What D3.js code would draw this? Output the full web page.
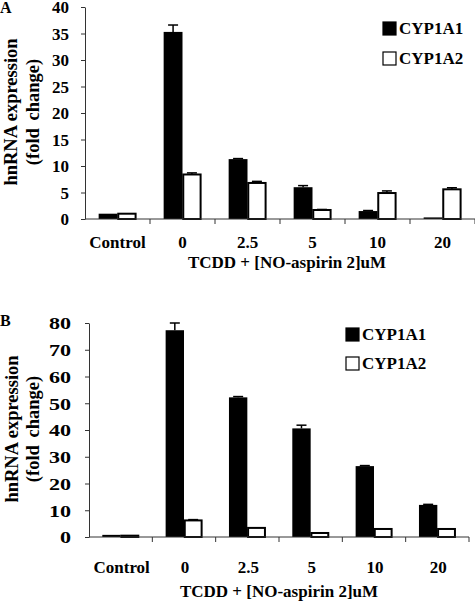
<!DOCTYPE html>
<html><head><meta charset="utf-8">
<script src="https://cdn.jsdelivr.net/npm/d3@7"></script>
<style>
body{margin:0;background:#fff;}
svg{display:block;font-family:"Liberation Serif","Times New Roman",serif;font-weight:bold;}
</style></head>
<body>
<svg id="c" width="475" height="603"></svg>
<script>
const categories = ["Control","0","2.5","5","10","20"];
const seriesNames = ["CYP1A1","CYP1A2"];
const aCYP1A1 = [1.0, 35.3, 11.3, 6.0, 1.5, 0.3];
const aCYP1A1Err = [0, 1.3, 0.1, 0.3, 0.1, 0];
const aCYP1A2 = [1.0, 8.4, 6.8, 1.7, 4.9, 5.6];
const aCYP1A2Err = [0, 0.3, 0.3, 0.1, 0.4, 0.3];
const bCYP1A1 = [0.8, 77.3, 52.2, 40.6, 26.5, 12.0];
const bCYP1A1Err = [0, 2.7, 0.3, 1.2, 0.2, 0.2];
const bCYP1A2 = [0.5, 6.2, 3.4, 1.5, 3.0, 3.0];
const bCYP1A2Err = [0, 0.3, 0, 0, 0, 0];
const aTicks = [0,5,10,15,20,25,30,35,40];
const bTicks = [0,10,20,30,40,50,60,70,80];
const xTitle = "TCDD + [NO-aspirin 2]uM";
const yTitle1 = "hnRNA expression";
const yTitle2 = "(fold change)";

const svg = d3.select("#c");

function panel(o){
  const g = svg.append("g");
  const x0 = d3.scaleBand().domain(categories).range([o.left, o.right]).padding(0);
  const bw = x0.bandwidth();
  const x1 = d3.scaleBand().domain(seriesNames).range([bw*0.21, bw*0.79]).padding(0);
  const y = d3.scaleLinear().domain([0, o.max]).range([o.bottom, o.top]);

  // panel letter
  g.append("text").attr("x",0).attr("y",o.letterY).attr("font-size",16).text(o.letter);

  // bars
  const data = categories.map((c,i)=>({c, vals:[
    {s:"CYP1A1", v:o.s1[i], e:o.e1[i]},
    {s:"CYP1A2", v:o.s2[i], e:o.e2[i]}]}));
  const grp = g.selectAll("g.cat").data(data).enter().append("g")
    .attr("transform", d=>`translate(${x0(d.c)},0)`);
  grp.selectAll("rect").data(d=>d.vals).enter().append("rect")
    .attr("x", d=>x1(d.s)+(d.s==="CYP1A2"?0.75:0))
    .attr("width", d=>x1.bandwidth()-(d.s==="CYP1A2"?1.5:0))
    .attr("y", d=>y(d.v))
    .attr("height", d=>Math.max(0,o.bottom-y(d.v)))
    .attr("fill", d=>d.s==="CYP1A1"?"#000":"#fff")
    .attr("stroke", d=>d.s==="CYP1A2"?"#000":"none")
    .attr("stroke-width",2);
  // error bars
  const eb = grp.selectAll("g.err").data(d=>d.vals.filter(v=>v.e>0)).enter().append("g");
  eb.append("line")
    .attr("x1", d=>x1(d.s)+x1.bandwidth()/2).attr("x2", d=>x1(d.s)+x1.bandwidth()/2)
    .attr("y1", d=>y(d.v)).attr("y2", d=>y(d.v+d.e))
    .attr("stroke","#000").attr("stroke-width",1.5);
  eb.append("line")
    .attr("x1", d=>x1(d.s)+x1.bandwidth()/2-5).attr("x2", d=>x1(d.s)+x1.bandwidth()/2+5)
    .attr("y1", d=>y(d.v+d.e)).attr("y2", d=>y(d.v+d.e))
    .attr("stroke","#000").attr("stroke-width",1.5);

  // y axis
  const ya = g.append("g").attr("transform",`translate(${o.left},0)`)
    .call(d3.axisLeft(y).tickValues(o.ticks).tickSize(4).tickSizeOuter(0).tickPadding(o.tickPad));
  ya.select(".domain").attr("stroke","#333");
  ya.selectAll(".tick line").attr("stroke","#333");
  ya.selectAll(".tick text").attr("font-family","Liberation Serif, serif").attr("font-weight","bold")
    .attr("font-size",17).attr("fill","#000").attr("dy","0.34em");
  if(o.stretch){
    ya.selectAll(".tick text").each(function(){
      const t=d3.select(this); const xx=+t.attr("x");
      t.attr("x",0).attr("transform",`translate(${xx},0) scale(${o.stretch},1)`);
    });
  }

  // x axis
  const xa = g.append("g").attr("transform",`translate(0,${o.bottom})`);
  xa.append("line").attr("x1",o.left).attr("x2",o.right).attr("stroke","#333");
  xa.selectAll("line.t").data(categories).enter().append("line")
    .attr("x1",d=>x0(d)+bw).attr("x2",d=>x0(d)+bw).attr("y1",0).attr("y2",5).attr("stroke","#333");
  g.selectAll("text.cat").data(categories).enter().append("text")
    .attr("x",d=>x0(d)+bw/2+o.catShift).attr("y",o.catY).attr("text-anchor","middle")
    .attr("font-size",17).text(d=>d);
  g.append("text").attr("x",o.titleX).attr("y",o.titleY).attr("text-anchor","middle")
    .attr("font-size",17).text(xTitle);

  // y title
  const cy = o.yTitleC;
  g.append("text").attr("transform",`translate(${o.yT1},${cy}) rotate(-90)`)
    .attr("text-anchor","middle").attr("font-size",18.5).text(yTitle1);
  g.append("text").attr("transform",`translate(${o.yT2},${cy}) rotate(-90)`)
    .attr("text-anchor","middle").attr("font-size",18.5).attr("word-spacing","3px").text(yTitle2);

  // legend
  const lg = g.append("g").attr("transform",`translate(${o.legX},${o.legY})`);
  seriesNames.forEach((s,i)=>{
    lg.append("rect").attr("x",0).attr("y",i*o.legStep).attr("width",13).attr("height",13)
      .attr("fill",i===0?"#000":"#fff").attr("stroke","#000").attr("stroke-width",1.2);
    lg.append("text").attr("x",16).attr("y",i*o.legStep+12).attr("font-size",17).text(s);
  });
}

panel({letter:"A",letterY:13,left:85,right:475,top:7,bottom:219,max:40,ticks:aTicks,
  s1:aCYP1A1,e1:aCYP1A1Err,s2:aCYP1A2,e2:aCYP1A2Err,tickPad:12,stretch:null,
  catY:248,catShift:0,titleX:287,titleY:268,yT1:17,yT2:39,yTitleC:112,
  legX:383,legY:22,legStep:30});
panel({letter:"B",letterY:326,left:89,right:469,top:323,bottom:537,max:80,ticks:bTicks,
  s1:bCYP1A1,e1:bCYP1A1Err,s2:bCYP1A2,e2:bCYP1A2Err,tickPad:14,stretch:1.3,
  catY:573,catShift:1,titleX:279,titleY:597,yT1:18,yT2:39,yTitleC:429,
  legX:346,legY:328,legStep:29});
</script>
</body></html>
